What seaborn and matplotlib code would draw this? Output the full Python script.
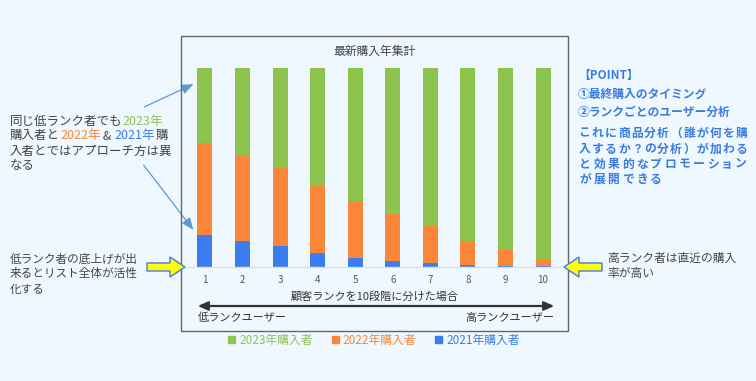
import numpy as np
import pandas as pd
import matplotlib
matplotlib.use("Agg")
import matplotlib.pyplot as plt
import seaborn as sns
from matplotlib.patches import Rectangle, FancyArrow, Patch

# data (share of buyers per rank, %)
ranks = ["1", "2", "3", "4", "5", "6", "7", "8", "9", "10"]
buy_2023 = [37.9, 43.9, 50.3, 59.3, 67.0, 73.3, 79.4, 87.0, 91.4, 96.1]
buy_2022 = [46.2, 43.2, 39.3, 33.8, 28.5, 23.8, 18.7, 12.1, 8.2, 3.5]
buy_2021 = [15.9, 12.9, 10.4, 6.9, 4.5, 2.9, 1.9, 0.9, 0.4, 0.4]
series_labels = ["2023年購入者", "2022年購入者", "2021年購入者"]

GREEN = "#8DC450"
ORANGE = "#FB8638"
BLUE = "#3B7CF0"
TXT = "#444444"
NOTE = "#3A7BE0"
BG = "#F0F8FF"

sns.set_theme(style="white")
plt.rcParams['font.family'] = ['Noto Sans CJK JP', 'DejaVu Sans']

W, H = 756, 381
fig = plt.figure(figsize=(W / 100, H / 100), dpi=100, facecolor=BG)


def px(x, y):
    return x / W, 1 - y / H


# axes placed so bars line up with the reference
ax = fig.add_axes([186.2 / W, 1 - 266.7 / H, 375.6 / W, 199 / H])
ax.set_facecolor(BG)

df = pd.DataFrame({"rank": ranks, "y2023": buy_2023, "y2022": buy_2022, "y2021": buy_2021})
df["top"] = df["y2023"] + df["y2022"] + df["y2021"]
df["mid"] = df["y2022"] + df["y2021"]

sns.barplot(data=df, x="rank", y="top", color=GREEN, width=0.4, saturation=1, ax=ax)
sns.barplot(data=df, x="rank", y="mid", color=ORANGE, width=0.4, saturation=1, ax=ax)
sns.barplot(data=df, x="rank", y="y2021", color=BLUE, width=0.4, saturation=1, ax=ax)
for p in ax.patches:
    p.set_linewidth(0)

ax.set_ylim(0, 100)
ax.set_xlim(-0.5, 9.5)
ax.set_xlabel("")
ax.set_ylabel("")
ax.set_yticks([])
for s in ["top", "left", "right"]:
    ax.spines[s].set_visible(False)
ax.spines["bottom"].set_color("#d9e0e6")
ax.spines["bottom"].set_linewidth(1)
ax.tick_params(axis="x", length=0, pad=6, labelsize=7, labelcolor="#555555")

# chart frame
x0, y0 = px(181, 331)
x1, y1 = px(568, 36)
fig.patches.append(Rectangle((x0, y0), x1 - x0, y1 - y0, transform=fig.transFigure,
                             fill=False, edgecolor="#666666", linewidth=1))

fig.text(*px(375, 51), "最新購入年集計", ha="center", va="center", fontsize=8.5, color=TXT)

# rank axis explanation
fig.text(*px(375, 297), "顧客ランクを10段階に分けた場合", ha="center", va="center", fontsize=8, color="#333333")
ax.annotate("", xy=px(557, 306), xytext=px(195, 306), xycoords="figure fraction",
            textcoords="figure fraction",
            arrowprops=dict(arrowstyle="<|-|>,head_length=0.5,head_width=0.22", color="#333333", lw=1.6))
fig.text(*px(198, 318), "低ランクユーザー", ha="left", va="center", fontsize=8, color="#333333")
fig.text(*px(554, 318), "高ランクユーザー", ha="right", va="center", fontsize=8, color="#333333")

# legend
handles = [Patch(color=GREEN), Patch(color=ORANGE), Patch(color=BLUE)]
fig.legend(handles, series_labels, loc="center", bbox_to_anchor=px(374, 340), ncol=3, frameon=False,
           fontsize=8.5, handlelength=0.6, handleheight=0.6, handletextpad=0.35, columnspacing=1.6,
           labelcolor=[GREEN, ORANGE, BLUE])


# multi-coloured lines: each piece is anchored to the end of the previous one
def chain_text(x, y, parts, size=9):
    t = fig.text(*px(x, y), parts[0][0], color=parts[0][1], fontsize=size, ha="left", va="center")
    for s, c in parts[1:]:
        t = ax.annotate(s, xy=(1, 0.5), xycoords=t, va="center", ha="left",
                        color=c, fontsize=size, annotation_clip=False)
    return t


chain_text(10, 121, [("同じ低ランク者でも", TXT), ("2023年", GREEN)])
chain_text(10, 136, [("購入者と", TXT), ("2022年", ORANGE), (" & ", TXT), ("2021年", BLUE), ("購", TXT)])
chain_text(10, 151, [("入者とではアプローチ方は異", TXT)])
chain_text(10, 166, [("なる", TXT)])

for yy, s in zip([259, 274, 289], ["低ランク者の底上げが出", "来るとリスト全体が活性", "化する"]):
    fig.text(*px(10, yy), s, ha="left", va="center", fontsize=8.4, color=TXT)
for yy, s in zip([258, 273], ["高ランク者は直近の購入", "率が高い"]):
    fig.text(*px(607, yy), s, ha="left", va="center", fontsize=8.5, color=TXT)

# thin blue pointers
for start, end in [((142, 108), (196, 83)), ((142, 163), (195, 232))]:
    ax.annotate("", xy=px(*end), xytext=px(*start), xycoords="figure fraction",
                textcoords="figure fraction",
                arrowprops=dict(arrowstyle="-|>,head_length=0.6,head_width=0.25", color="#5B9BD5", lw=0.9))


# yellow block arrows (inches from the bottom-left corner)
def block_arrow(tail, tip):
    tx, ty = tail[0] / 100, (H - tail[1]) / 100
    hx, hy = tip[0] / 100, (H - tip[1]) / 100
    fig.patches.append(FancyArrow(tx, ty, hx - tx, hy - ty, width=0.08, head_width=0.2, head_length=0.15,
                                  length_includes_head=True, transform=fig.dpi_scale_trans,
                                  facecolor="#FFFF00", edgecolor="#3B7CF0", linewidth=1))


block_arrow((147, 267), (185, 267))
block_arrow((602, 267), (564, 267))

# POINT box
fig.text(*px(578, 75), "【POINT】", ha="left", va="center", fontsize=8.5, color=NOTE, fontweight="bold")
fig.text(*px(578, 94), "①最終購入のタイミング", ha="left", va="center", fontsize=8.5, color=NOTE, fontweight="bold")
fig.text(*px(578, 112), "②ランクごとのユーザー分析", ha="left", va="center", fontsize=8.5, color=NOTE, fontweight="bold")

# justified paragraph, one glyph at a time
para = ["これに商品分析（誰が何を購", "入するか？の分析）が加わる", "と効果的なプロモーション", "が展開できる"]
para_y = [133, 149, 164, 179]
for line, yy, n in zip(para, para_y, [13, 13, 12, 12]):
    pitch = (748 - 578) / n
    for i, ch in enumerate(line):
        fig.text(*px(578 + pitch * (i + 0.5), yy), ch, ha="center", va="center", fontsize=8.5,
                 color=NOTE, fontweight="bold")

fig.savefig("out.png", dpi=100, facecolor=BG)
